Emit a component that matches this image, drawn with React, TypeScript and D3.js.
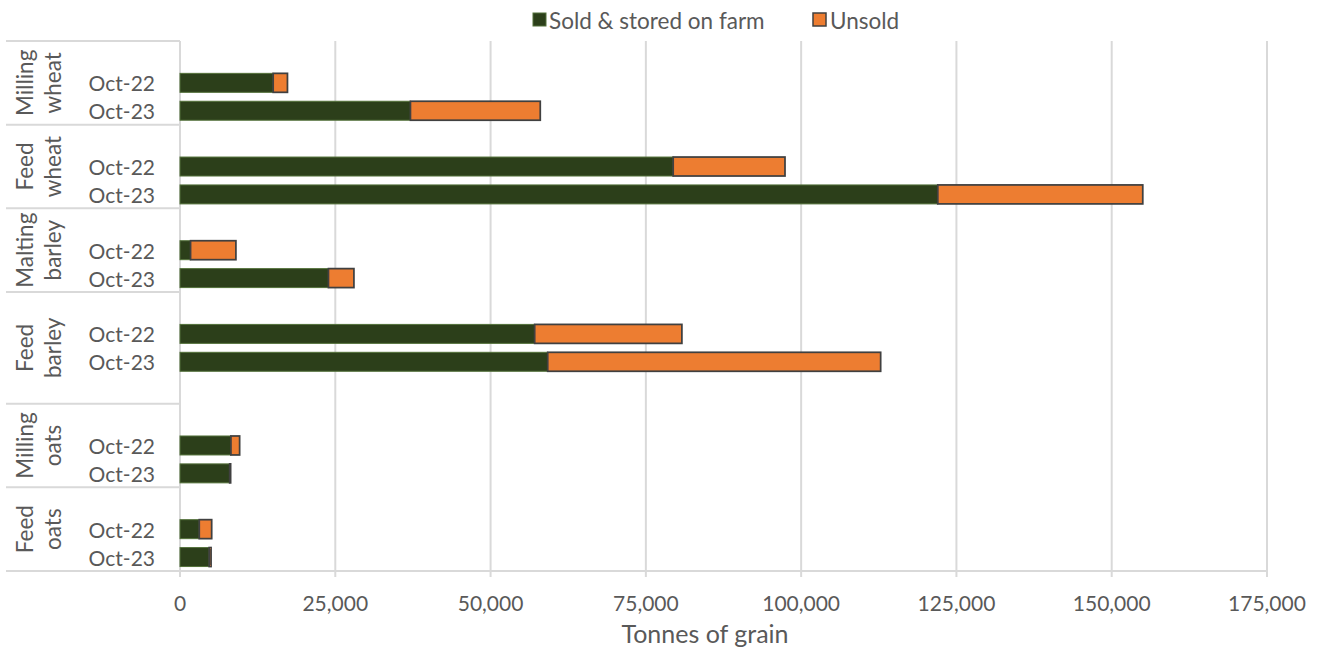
import React from "react";
import * as d3 from "d3";

// ---------- data ----------
const groups = ["Milling wheat", "Feed wheat", "Malting barley", "Feed barley", "Milling oats", "Feed oats"];
const periods = ["Oct-22", "Oct-23"];
// values per group, Oct-22 then Oct-23
const soldStored = [15000, 37100, 79400, 122000, 1700, 23900, 57100, 59200, 8200, 8000, 3100, 4700];
const unsold = [2300, 20900, 18000, 33000, 7300, 4100, 23700, 53600, 1400, 150, 2000, 300];
// blank category rows in the source sheet after each group's leading blank row
const trailingBlankRows = [0, 0, 0, 1, 0, 0];
const xTicks = [0, 25000, 50000, 75000, 100000, 125000, 150000, 175000];
const seriesNames = ["Sold & stored on farm", "Unsold"];

// ---------- styling ----------
const W = 1325, H = 648;
const M = { left: 180, right: 1267, top: 41, bottom: 571 };
const GREEN = "#2c3f1a";
const GREEN_EDGE = "#53713a";
const ORANGE = "#ed7d31";
const ORANGE_EDGE = "#404040";
const GRID = "#d9d9d9";
const TEXT = "#595959";
const FONT = "Lato, 'Open Sans', sans-serif";

type Row = { key: string; group: number; period: string; idx: number };

const rows: Row[] = [];
groups.forEach((g, gi) => {
  rows.push({ key: `${gi}-b0`, group: gi, period: "", idx: -1 });
  periods.forEach((p, pi) => rows.push({ key: `${gi}-${p}`, group: gi, period: p, idx: gi * 2 + pi }));
  for (let k = 0; k < trailingBlankRows[gi]; k++) rows.push({ key: `${gi}-b${k + 1}`, group: gi, period: "", idx: -1 });
});

export default function App() {
  const x = d3.scaleLinear().domain([0, 175000]).range([M.left, M.right]);
  const y = d3
    .scaleBand<string>()
    .domain(rows.map((r) => r.key))
    .range([M.top, M.bottom])
    .paddingInner(0.32)
    .paddingOuter(0.16);
  const step = y.step();
  const slotTop = (k: string) => (y(k) as number) - step * 0.16;

  const groupBounds = groups.map((g, gi) => {
    const gr = rows.filter((r) => r.group === gi);
    const top = slotTop(gr[0].key);
    const bottom = slotTop(gr[gr.length - 1].key) + step;
    return { g, top, bottom };
  });

  const fmt = d3.format(",");

  return (
    <svg width={W} height={H} style={{ position: "absolute", left: 0, top: 0 }} fontFamily={FONT}>
      <rect x={0} y={0} width={W} height={H} fill="#fff" />
      {xTicks.map((t) => (
        <line key={`g${t}`} x1={x(t)} x2={x(t)} y1={M.top} y2={M.bottom + 6} stroke={GRID} strokeWidth={2} />
      ))}
      <line x1={6} x2={M.left} y1={M.top} y2={M.top} stroke={GRID} strokeWidth={2} />
      {groupBounds.map((b, i) => (
        <line key={`s${i}`} x1={6} x2={M.left} y1={b.bottom} y2={b.bottom} stroke={GRID} strokeWidth={2} />
      ))}
      <line x1={6} x2={M.right} y1={M.bottom} y2={M.bottom} stroke={GRID} strokeWidth={2} />

      {rows
        .filter((r) => r.idx >= 0)
        .map((r) => {
          const s = soldStored[r.idx];
          const u = unsold[r.idx];
          const yy = y(r.key) as number;
          const h = y.bandwidth();
          return (
            <g key={`bar-${r.key}`}>
              <rect x={x(0)} y={yy} width={x(s) - x(0)} height={h} fill={GREEN} stroke={GREEN_EDGE} strokeWidth={1} />
              <rect x={x(s)} y={yy} width={x(s + u) - x(s)} height={h} fill={ORANGE} stroke={ORANGE_EDGE} strokeWidth={1.75} />
            </g>
          );
        })}

      {rows
        .filter((r) => r.idx >= 0)
        .map((r) => (
          <text
            key={`pl-${r.key}`}
            x={155}
            y={(y(r.key) as number) + y.bandwidth() / 2}
            textAnchor="end"
            dominantBaseline="central"
            fontSize={21}
            fill={TEXT}
          >
            {r.period}
          </text>
        ))}

      {groupBounds.map((b, i) => {
        const cy = (b.top + b.bottom) / 2;
        const words = b.g.split(" ");
        return (
          <g key={`gl${i}`}>
            {words.map((w, wi) => (
              <text
                key={wi}
                transform={`translate(${24 + wi * 28},${cy}) rotate(-90)`}
                textAnchor="middle"
                dominantBaseline="central"
                fontSize={22.5}
                fill={TEXT}
              >
                {w}
              </text>
            ))}
          </g>
        );
      })}

      {xTicks.map((t) => (
        <text key={`t${t}`} x={x(t)} y={602} textAnchor="middle" dominantBaseline="central" fontSize={21} fill={TEXT}>
          {fmt(t)}
        </text>
      ))}
      <text x={705} y={633} textAnchor="middle" dominantBaseline="central" fontSize={25} fill={TEXT}>
        Tonnes of grain
      </text>

      <rect x={533} y={13} width={13} height={13} fill={GREEN} stroke={GREEN_EDGE} strokeWidth={1} />
      <text x={549} y={20} dominantBaseline="central" fontSize={22.5} fill={TEXT}>
        {seriesNames[0]}
      </text>
      <rect x={813} y={13} width={13} height={13} fill={ORANGE} stroke={ORANGE_EDGE} strokeWidth={1.5} />
      <text x={830} y={20} dominantBaseline="central" fontSize={22.5} fill={TEXT}>
        {seriesNames[1]}
      </text>
    </svg>
  );
}
